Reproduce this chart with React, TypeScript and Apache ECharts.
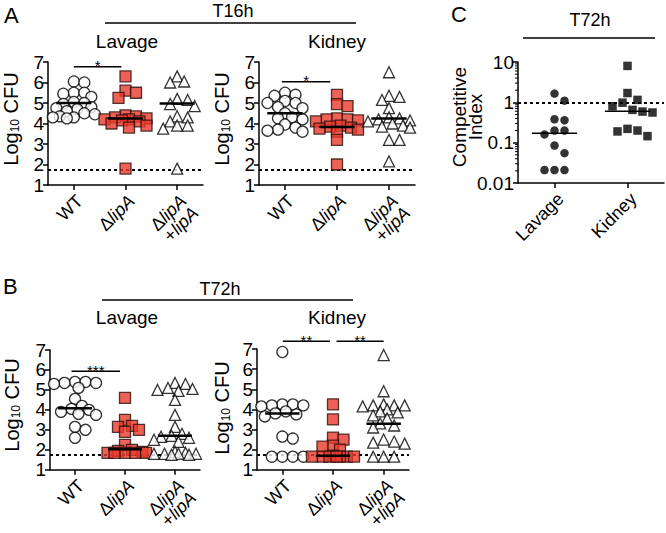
import React, { useEffect, useRef } from 'react';
import * as echarts from 'echarts';

// ---------- categories & ticks ----------
const groupLabels = ['WT', 'ΔlipA', 'ΔlipA+lipA'];
const cLabels = ['Lavage', 'Kidney'];
const detectionLimit = 1.75;
const ciReference = 1;
const cDecades = [0.01, 0.1, 1];
const cMinorSteps = [2, 3, 4, 5, 6, 7, 8, 9];

// ---------- Panel A (T16h) ----------
const aLavWT = [6.05, 6.0, 5.5, 5.5, 5.45, 5.3, 5.05, 5.0, 4.95, 4.8, 4.75, 4.7, 4.6, 4.5, 4.45, 4.35, 4.3, 4.3, 4.25];
const aLavLipA = [6.3, 5.6, 5.5, 5.25, 4.4, 4.35, 4.3, 4.25, 4.2, 4.2, 4.15, 4.1, 4.0, 3.9, 3.8, 1.8];
const aLavComp = [6.3, 6.05, 6.0, 5.2, 5.15, 4.95, 4.85, 4.35, 4.3, 4.1, 3.9, 3.9, 3.75, 1.8];
const aLavMedians = [5.0, 4.25, 4.98];

const aKidWT = [5.5, 5.4, 5.35, 5.1, 5.0, 5.0, 4.8, 4.75, 4.5, 4.3, 4.25, 4.2, 3.95, 3.8, 3.7, 3.65, 3.6];
const aKidLipA = [5.4, 4.95, 4.85, 4.25, 4.2, 4.2, 4.15, 4.1, 3.9, 3.85, 3.8, 3.75, 3.7, 3.6, 3.2, 2.0];
const aKidComp = [6.5, 5.35, 5.3, 5.15, 4.75, 4.3, 4.25, 4.2, 4.15, 4.1, 4.0, 3.9, 3.85, 3.8, 3.2, 3.2, 2.15];
const aKidMedians = [4.5, 3.83, 4.24];

// ---------- Panel B (T72h) ----------
const bLavWT = [5.4, 5.4, 5.35, 5.35, 5.3, 5.1, 4.55, 4.2, 4.05, 4.0, 3.9, 3.8, 3.75, 3.15, 3.0, 2.6];
const bLavLipA = [4.6, 3.5, 3.2, 3.15, 3.0, 2.9, 2.25, 2.0, 1.95, 1.9, 1.85, 1.85, 1.85, 1.85, 1.85];
const bLavComp = [5.35, 5.3, 5.1, 5.05, 5.0, 4.95, 4.5, 3.75, 3.15, 2.8, 2.7, 2.65, 2.6, 2.5, 2.4, 1.9, 1.85, 1.8, 1.8, 1.8, 1.8, 1.75, 1.75];
const bLavMedians = [4.08, 2.03, 2.7];

const bKidWT = [6.85, 4.25, 4.25, 4.2, 4.2, 4.15, 3.9, 3.8, 3.75, 3.65, 2.65, 2.55, 1.65, 1.65, 1.65, 1.65];
const bKidLipA = [4.25, 3.5, 2.6, 2.5, 2.2, 2.15, 2.0, 1.7, 1.65, 1.65, 1.65, 1.65, 1.65, 1.65, 1.65];
const bKidComp = [6.7, 4.9, 4.25, 4.2, 4.2, 4.2, 4.15, 4.0, 3.9, 3.85, 3.7, 3.55, 3.3, 3.2, 3.1, 2.5, 2.4, 2.35, 2.3, 1.65, 1.65, 1.65];
const bKidMedians = [3.8, 1.7, 3.28];

// ---------- Panel C (competitive index, T72h) ----------
const cLavage = [1.65, 1.1, 0.38, 0.36, 0.2, 0.2, 0.16, 0.085, 0.055, 0.021, 0.021, 0.021];
const cKidney = [8.0, 1.7, 1.15, 0.98, 0.8, 0.65, 0.59, 0.56, 0.22, 0.2, 0.19, 0.145];
const cMedians = [0.17, 0.6];

// ---------- significance annotations ----------
const aLavSigFrom = [0];
const aLavSigTo = [0.92];
const aLavSigY = [6.77];
const aLavSigStars = ['*'];
const aKidSigFrom = [-0.06];
const aKidSigTo = [0.87];
const aKidSigY = [6.04];
const aKidSigStars = ['*'];
const bLavSigFrom = [-0.07];
const bLavSigTo = [0.9];
const bLavSigY = [5.94];
const bLavSigStars = ['***'];
const bKidSigFrom = [0.01, 1.07];
const bKidSigTo = [0.94, 2.0];
const bKidSigY = [7.39, 7.39];
const bKidSigStars = ['**', '**'];

const FONT = 'Liberation Sans, Arial, Helvetica, sans-serif';
const RED = '#e8392c';

type Panel = {
  grid: { left: number; top: number; width: number; height: number };
  log: boolean;
  cats: string[];
  groups: number[][];
  medians: number[];
  sigFrom: number[];
  sigTo: number[];
  sigY: number[];
  sigStars: string[];
  ref: number;
};

const panels: Panel[] = [
  { grid: { left: 48, top: 62, width: 155, height: 123 }, log: false, cats: groupLabels, groups: [aLavWT, aLavLipA, aLavComp], medians: aLavMedians, sigFrom: aLavSigFrom, sigTo: aLavSigTo, sigY: aLavSigY, sigStars: aLavSigStars, ref: detectionLimit },
  { grid: { left: 259, top: 62, width: 156, height: 123 }, log: false, cats: groupLabels, groups: [aKidWT, aKidLipA, aKidComp], medians: aKidMedians, sigFrom: aKidSigFrom, sigTo: aKidSigTo, sigY: aKidSigY, sigStars: aKidSigStars, ref: detectionLimit },
  { grid: { left: 50, top: 350, width: 150, height: 123 }, log: false, cats: groupLabels, groups: [bLavWT, bLavLipA, bLavComp], medians: bLavMedians, sigFrom: bLavSigFrom, sigTo: bLavSigTo, sigY: bLavSigY, sigStars: bLavSigStars, ref: detectionLimit },
  { grid: { left: 257, top: 349, width: 152, height: 123 }, log: false, cats: groupLabels, groups: [bKidWT, bKidLipA, bKidComp], medians: bKidMedians, sigFrom: bKidSigFrom, sigTo: bKidSigTo, sigY: bKidSigY, sigStars: bKidSigStars, ref: detectionLimit },
  { grid: { left: 518, top: 62, width: 146, height: 121 }, log: true, cats: cLabels, groups: [cLavage, cKidney], medians: cMedians, sigFrom: [], sigTo: [], sigY: [], sigStars: [], ref: ciReference },
];

// simple (overlapping) beeswarm layout: returns x offsets in category units
function swarm(values: number[], toPx: (v: number) => number, minDist: number, step: number, maxOff: number, pxPerCat: number): number[] {
  const placed: { x: number; y: number }[] = [];
  const offs = new Array(values.length).fill(0);
  const order = values.map((_, i) => i).sort((a, b) => values[b] - values[a]);
  for (const i of order) {
    const y = toPx(values[i]);
    let best = 0;
    let bestHit = Infinity;
    for (let t = 0; t < 60; t++) {
      const cand = t === 0 ? 0 : (t % 2 === 1 ? 1 : -1) * Math.ceil(t / 2) * step;
      if (Math.abs(cand) > maxOff) break;
      let minD = Infinity;
      for (const p of placed) minD = Math.min(minD, Math.hypot(p.x - cand, p.y - y));
      if (minD >= minDist) { best = cand; bestHit = -1; break; }
      if (-minD < bestHit) { bestHit = -minD; best = cand; }
    }
    placed.push({ x: best, y });
    offs[i] = best / pxPerCat;
  }
  return offs;
}

function catLabelFormatter(v: string) {
  if (v === 'ΔlipA') return 'Δ{i|lipA}';
  if (v === 'ΔlipA+lipA') return 'Δ{i|lipA}\n+{i|lipA}';
  return v;
}

function buildOption() {
  const option: any = {
    animation: false,
    backgroundColor: '#ffffff',
    grid: [],
    xAxis: [],
    yAxis: [],
    series: [],
    graphic: [],
  };

  panels.forEach((p, pi) => {
    option.grid.push({ ...p.grid });
    option.xAxis.push({
      type: 'category',
      gridIndex: pi,
      data: p.cats,
      boundaryGap: true,
      axisLine: { show: true, onZero: false, lineStyle: { color: '#000', width: 1.5 } },
      axisTick: { show: true, alignWithLabel: true, length: 5, lineStyle: { color: '#000', width: 1.5 } },
      splitLine: { show: false },
      axisLabel: {
        interval: 0,
        rotate: 45,
        margin: 7,
        verticalAlign: 'top',
        fontSize: 18,
        fontFamily: FONT,
        color: '#000',
        lineHeight: 17,
        formatter: catLabelFormatter,
        rich: { i: { fontStyle: 'italic', fontSize: 18, fontFamily: FONT, color: '#000', lineHeight: 17 } },
      },
    });
    const valIdx = option.xAxis.length;
    option.xAxis.push({ type: 'value', gridIndex: pi, min: -0.5, max: p.cats.length - 0.5, show: false, axisLine: { onZero: false } });

    if (p.log) {
      option.yAxis.push({
        type: 'log',
        logBase: 10,
        gridIndex: pi,
        min: 0.01,
        max: 10,
        axisLine: { show: true, onZero: false, lineStyle: { color: '#000', width: 1.5 } },
        axisTick: { show: true, length: 5, lineStyle: { color: '#000', width: 1.5 } },
        splitLine: { show: false },
        axisLabel: {
          fontSize: 19, fontFamily: FONT, color: '#000', margin: 4,
          formatter: (v: number) => (v >= 1 ? v.toFixed(0) : String(+v.toPrecision(1))),
        },
      });
    } else {
      option.yAxis.push({
        type: 'value',
        gridIndex: pi,
        min: 1,
        max: 7,
        interval: 1,
        axisLine: { show: true, onZero: false, lineStyle: { color: '#000', width: 1.5 } },
        axisTick: { show: true, length: 5, lineStyle: { color: '#000', width: 1.5 } },
        splitLine: { show: false },
        axisLabel: { fontSize: 19, fontFamily: FONT, color: '#000', margin: 4 },
      });
    }
    const yIdx = pi;
    const pxPerCat = p.grid.width / p.cats.length;
    const toPx = p.log
      ? (v: number) => Math.log10(v) * (p.grid.height / 3)
      : (v: number) => v * (p.grid.height / 6);

    const styles = p.log
      ? [
          { symbol: 'circle', symbolSize: 8.5, itemStyle: { color: '#000', borderColor: '#000', borderWidth: 0 } },
          { symbol: 'rect', symbolSize: 8.5, itemStyle: { color: '#000', borderColor: '#000', borderWidth: 0 } },
        ]
      : [
          { symbol: 'circle', symbolSize: 11, itemStyle: { color: '#fff', borderColor: '#000', borderWidth: 1.3 } },
          { symbol: 'rect', symbolSize: 11, itemStyle: { color: RED, borderColor: '#2a0f0c', borderWidth: 1.3 } },
          { symbol: 'triangle', symbolSize: 11, itemStyle: { color: '#fff', borderColor: '#000', borderWidth: 1.3 } },
        ];

    p.groups.forEach((vals, gi) => {
      const offs = p.log
        ? swarm(vals, toPx, 10, 5, 26, pxPerCat)
        : swarm(vals, toPx, 8, 3.5, 24, pxPerCat);
      const s: any = {
        type: 'scatter',
        xAxisIndex: valIdx,
        yAxisIndex: yIdx,
        data: vals.map((v, k) => [gi + offs[k], v]),
        ...styles[gi],
        clip: false,
        z: 3,
        silent: true,
      };
      if (gi === 0) {
        s.markLine = {
          silent: true,
          symbol: 'none',
          label: { show: false },
          lineStyle: { color: '#000', type: [3, 3], width: 2 },
          data: [{ yAxis: p.ref }],
          z: 2,
        };
      }
      option.series.push(s);
    });

    // minor log ticks on the competitive-index axis
    if (p.log) {
      const minor: number[][] = [];
      cDecades.forEach((d) => cMinorSteps.forEach((m) => minor.push([-0.5, d * m])));
      option.series.push({
        type: 'custom',
        xAxisIndex: valIdx,
        yAxisIndex: yIdx,
        clip: false,
        silent: true,
        z: 4,
        data: minor,
        renderItem: (params: any, api: any) => {
          const pt = api.coord([api.value(0), api.value(1)]);
          return {
            type: 'line',
            shape: { x1: pt[0] - 3, y1: pt[1], x2: pt[0], y2: pt[1] },
            style: { stroke: '#000', lineWidth: 1 },
          };
        },
      });
    }

    // median lines
    const hw = p.log ? 0.31 : 0.34;
    option.series.push({
      type: 'custom',
      xAxisIndex: valIdx,
      yAxisIndex: yIdx,
      clip: false,
      z: 5,
      silent: true,
      data: p.medians.map((m, i) => [i, m]),
      renderItem: (params: any, api: any) => {
        const x = api.value(0);
        const y = api.value(1);
        const a = api.coord([x - hw, y]);
        const b = api.coord([x + hw, y]);
        return {
          type: 'line',
          shape: { x1: a[0], y1: a[1], x2: b[0], y2: b[1] },
          style: { stroke: '#000', lineWidth: p.log ? 1.5 : 2.5 },
        };
      },
    });

    // significance bars
    if (p.sigY.length) {
      option.series.push({
        type: 'custom',
        xAxisIndex: valIdx,
        yAxisIndex: yIdx,
        clip: false,
        z: 5,
        silent: true,
        data: p.sigY.map((y, i) => [p.sigFrom[i], y, p.sigTo[i]]),
        renderItem: (params: any, api: any) => {
          const a = api.coord([api.value(0), api.value(1)]);
          const b = api.coord([api.value(2), api.value(1)]);
          return {
            type: 'group',
            children: [
              { type: 'line', shape: { x1: a[0], y1: a[1], x2: b[0], y2: b[1] }, style: { stroke: '#000', lineWidth: 1.5 } },
              {
                type: 'text',
                x: (a[0] + b[0]) / 2,
                y: a[1] - 1,
                style: { text: p.sigStars[params.dataIndex], align: 'center', verticalAlign: 'middle', fontSize: 15, fontFamily: FONT, fill: '#000' },
              },
            ],
          };
        },
      });
    }
  });

  const txt = (text: string, x: number, y: number, fontSize: number, extra: any = {}) => ({
    type: 'text',
    x,
    y,
    style: { text, fontSize, fontFamily: FONT, fill: '#000', align: 'center', verticalAlign: 'middle', ...extra },
  });
  const hline = (x1: number, x2: number, y: number) => ({
    type: 'line',
    shape: { x1, y1: y, x2, y2: y },
    style: { stroke: '#000', lineWidth: 1.5 },
  });
  const ytitle = (x: number, y: number) => ({
    type: 'text',
    x,
    y,
    rotation: Math.PI / 2,
    style: {
      text: 'Log{sub|10} CFU',
      fontSize: 20,
      fontFamily: FONT,
      fill: '#000',
      align: 'center',
      verticalAlign: 'middle',
      rich: { sub: { fontSize: 12, fontFamily: FONT, fill: '#000', verticalAlign: 'bottom', lineHeight: 14 } },
    },
  });

  option.graphic = [
    txt('A', 4, 15, 22, { align: 'left' }),
    txt('B', 3, 286, 22, { align: 'left' }),
    txt('C', 451, 14, 22, { align: 'left' }),
    txt('T16h', 233, 11, 18),
    hline(105, 356, 23),
    txt('Lavage', 127, 41, 19),
    txt('Kidney', 337, 41, 19),
    txt('T72h', 590, 20, 18),
    hline(523, 655, 38),
    txt('T72h', 220, 289, 18),
    hline(102, 353, 300),
    txt('Lavage', 127, 317, 19),
    txt('Kidney', 337, 317, 19),
    ytitle(11, 119),
    ytitle(222, 119),
    ytitle(12, 405),
    ytitle(222, 408),
    {
      type: 'text',
      x: 467,
      y: 117,
      rotation: Math.PI / 2,
      style: { text: 'Competitive\nIndex', fontSize: 19, lineHeight: 16, fontFamily: FONT, fill: '#000', align: 'center', verticalAlign: 'middle' },
    },
  ];

  return option;
}

export default function App() {
  const ref = useRef<HTMLDivElement>(null);
  useEffect(() => {
    if (!ref.current) return;
    const chart = echarts.init(ref.current, null, { renderer: 'svg' });
    chart.setOption(buildOption());
    return () => chart.dispose();
  }, []);
  return (
    <div
      ref={ref}
      style={{ position: 'fixed', left: 0, top: 0, width: 666, height: 533, background: '#fff' }}
    />
  );
}
